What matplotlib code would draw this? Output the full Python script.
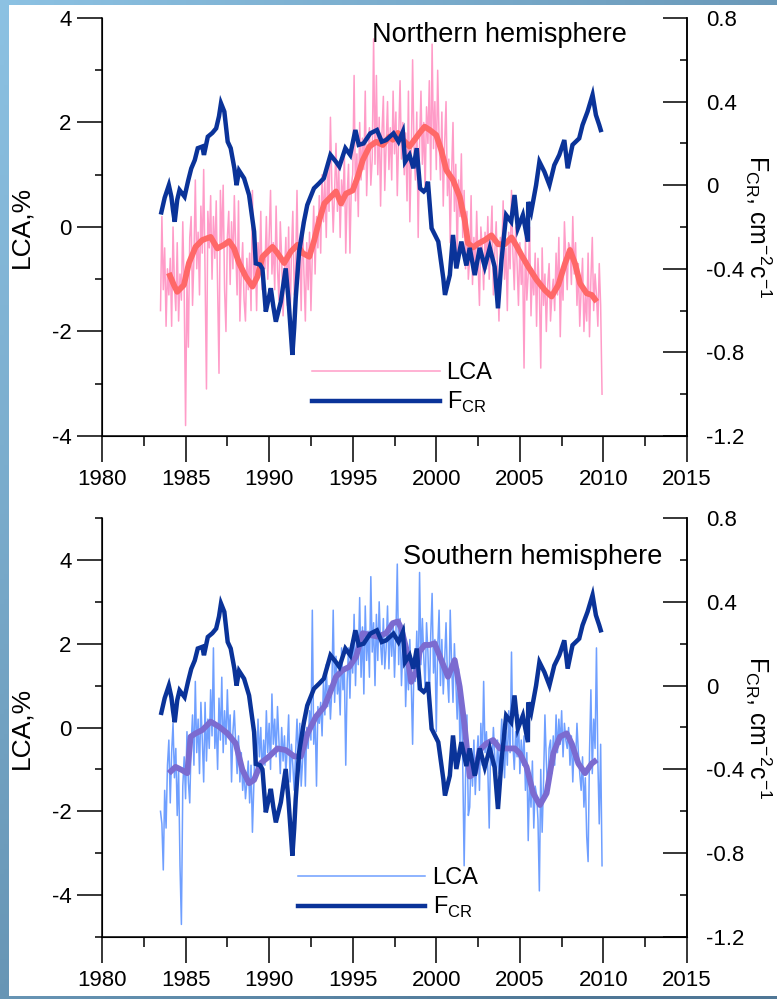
"""Lower cloud anomalies against cosmic ray flux, two hemispheres."""

import numpy as np
import matplotlib as mpl
import matplotlib.pyplot as plt
from matplotlib.lines import Line2D
from matplotlib.patches import Rectangle
from matplotlib.ticker import MultipleLocator, FuncFormatter

mpl.rc('font', family='Liberation Sans', size=16)
mpl.rc('mathtext', fontset='custom', rm='Liberation Sans')
mpl.rc('axes', unicode_minus=False)

# Monthly LCA anomalies (%), July 1983 - December 2009, one row per year.
lca_north = [
    -1.6, 0.2, -1.2, -0.4, -1.9, -0.8,
    -1.3, -0.6, -1.9, 0.0, -1.1, -1.6, -0.3, -1.8, -0.9, -1.4, 0.1, -1.2,
    -3.8, -1.0, -2.3, -0.2, 0.2, -1.5, -0.6, 0.9, -0.8, -0.1, -1.3, 0.4,
    -0.5, 1.1, -0.9, -3.1, 0.3, -0.4, 0.6, -1.0, 0.2, -0.6, 0.5, -1.2,
    -2.8, 0.7, -0.3, 0.8, -1.2, -2.0, -0.2, 0.3, -1.1, 0.1, -0.8, 0.6,
    -0.4, -1.3, 0.5, -1.8, -0.9, -0.3, -1.4, -1.8, -0.6, -1.2, -0.5, -1.6,
    0.7, -1.1, -0.4, -1.6, -0.3, -0.9, 0.3, -1.2, -0.5, -0.8, 0.2, -1.0,
    -0.2, 0.7, -0.9, -0.3, -1.2, 0.4, -0.8, -1.4, 0.1, -0.6, -1.7, -0.9,
    -0.2, -1.5, 0.0, -1.9, -0.5, 0.3, -1.3, -0.8, 0.7, -1.0, -0.4, -1.6,
    0.1, -0.9, -1.8, -0.3, -1.2, -0.1, -1.6, -0.5, 0.4, -0.9, 0.2, -0.4,
    0.6, -0.5, 1.0, 0.1, 0.9, -0.2, 1.2, 0.3, 2.1, 0.8, -0.1, 0.7,
    1.6, 0.3, 1.1, -0.2, 0.9, 0.4, 1.4, -0.5, 0.6, 1.2, -0.5, 0.8,
    1.0, 2.9, 0.5, 1.4, 0.2, 2.0, 0.9, 1.7, 1.1, 2.6, 0.6, 1.5,
    1.9, 0.8, 1.3, 3.6, 1.2, 2.9, 1.0, 2.1, 0.4, 1.8, 2.5, 0.7,
    1.6, 2.4, 1.1, 1.9, 0.9, 2.6, 1.4, 2.2, 0.6, 1.7, 2.8, 1.3,
    2.0, 1.0, 1.8, 0.5, 2.6, 0.1, 1.3, 3.2, 1.5, 0.9, 2.2, -0.2,
    1.6, 2.6, 1.2, 2.0, 0.7, 2.3, 1.6, 2.8, 0.9, 3.5, 1.5, 2.4,
    1.1, 3.0, 1.7, 0.9, 2.2, 0.4, 1.6, 2.4, 0.6, 1.3, -0.3, 1.0,
    2.0, 0.3, 1.2, -0.6, 0.9, 0.2, 1.4, -0.2, 0.7, -0.8, 0.3, -1.0,
    -0.6, 0.6, -1.1, -0.2, -0.9, 0.3, -0.7, -1.5, 0.0, -0.4, -1.2, -0.1,
    -0.8, 0.2, -1.0, -0.3, 0.4, -1.3, -0.5, 0.1, -0.9, -1.8, -0.2, -0.6,
    0.5, -1.0, -0.4, -1.6, -0.1, -0.8, 0.7, -0.5, -1.2, 0.0, -0.7, -1.5,
    -0.3, -1.1, -0.6, -2.7, -0.2, -1.4, -0.9, 0.0, -1.7, -0.8, -1.3, -0.5,
    -1.9, -0.6, -1.2, -2.7, -0.4, -1.5, -0.9, -2.0, -1.1, -0.7, -1.8, -1.3,
    -1.0, -1.6, -0.5, -1.3, -0.2, -2.1, -0.8, -1.4, 0.1, -0.6, -1.2, -0.3,
    -0.4, -1.1, 0.2, -0.9, -0.3, -1.5, -0.7, -1.9, -1.2, -0.6, -2.0, -1.3,
    -1.8, -0.5, -2.1, -1.0, -0.2, -1.6, -0.9, -1.3, -1.9, -0.7, -1.5, -3.2,
]

lca_south = [
    -2.0, -2.3, -3.4, -1.5, -2.4, -0.9,
    -0.3, -1.8, -0.6, 0.1, -1.2, -0.5, -2.1, -1.0, -3.3, -4.7, -1.4, -0.7,
    -1.7, -0.1, -1.3, -1.8, -0.4, 0.3, -0.9, 1.1, -0.6, 0.2, -1.1, 0.6,
    -0.3, -1.3, 0.6, -0.8, 0.2, -0.5, 0.9, -0.2, 1.9, -0.5, 0.1, -1.0,
    0.7, -0.3, 1.2, -0.6, 0.4, -0.4, 0.9, -0.2, 0.3, -1.3, -0.1, 0.4,
    -0.4, -1.1, -0.2, -1.3, -0.6, -1.5, -1.0, -1.7, -1.3, -0.8, -1.8, -0.9,
    -2.5, -1.4, -0.2, -1.0, 0.2, -0.7, 0.0, -1.2, -0.3, -0.9, 0.4, -0.6,
    0.1, -1.0, 0.8, -0.4, 0.2, -0.7, 0.5, -0.3, -1.1, 0.0, -0.8, -0.2,
    -1.1, -0.5, 0.3, -1.3, -0.4, -0.9, -1.5, -0.6, 0.2, -0.8, 0.1, -1.4,
    -0.8, 0.1, -1.4, 0.0, -0.5, 0.4, -0.3, 2.8, -0.4, 0.3, -1.4, 0.5,
    0.1, 0.6, -0.2, 1.1, 0.3, 1.5, 0.5, 1.0, 0.2, 0.9, 2.8, 0.6,
    1.7, 0.8, 1.2, 0.3, 1.9, 0.9, 1.4, -0.9, 1.1, 1.9, 0.7, 2.0,
    1.3, 2.7, 1.0, 2.2, 1.5, 3.1, 1.2, 2.4, 0.8, 2.9, 1.6, 2.3,
    1.2, 3.6, 1.8, 2.5, 1.0, 2.7, 1.6, 3.0, 2.0, 1.5, 2.6, 1.4,
    1.9, 2.9, 1.4, 2.5, 1.7, 2.5, 1.2, 2.2, 3.9, 1.5, 2.6, 1.0,
    1.9, 2.4, 0.5, 1.6, 0.9, 2.1, 1.1, -0.4, 1.6, 1.1, 2.3, 0.9,
    3.7, 1.5, 2.6, 1.7, 0.9, 2.5, 1.8, 0.6, 2.2, 3.2, 1.3, 2.1,
    -0.1, 1.9, 2.8, 1.0, 2.1, 0.8, 1.6, 2.5, 1.2, 0.6, 2.8, 1.5,
    0.6, 2.0, 1.1, 0.2, 1.4, -0.5, 0.8, -0.9, -3.3, -1.2, 0.3, -2.1,
    -1.9, -0.6, -1.4, -0.3, -1.6, -0.8, -0.2, -1.5, 0.1, -0.9, 1.1, -0.6,
    -0.1, -1.0, -2.4, -0.5, -0.9, 0.0, -0.7, -1.3, -0.3, -1.1, -0.5, 0.2,
    -0.5, -1.2, -0.1, -0.9, 0.4, -0.6, 1.8, -0.4, -1.0, -0.1, -0.7, 0.3,
    -1.1, -0.3, -0.9, -0.2, -1.5, -0.6, -2.7, -1.2, -1.9, -0.8, -2.4, -1.4,
    -1.6, -2.2, -3.9, -1.0, -2.5, -1.3, 0.3, -0.8, -1.6, -0.5, -0.3, -1.1,
    -0.2, -0.9, 0.3, -0.6, 0.2, -0.4, 0.4, -0.7, 0.1, -0.3, -0.5, 0.0,
    -0.9, -0.2, -1.3, -0.4, -0.8, 0.1, -0.6, -1.1, -1.5, -0.7, -1.9, -1.2,
    -2.6, -3.2, -0.6, 0.9, -1.1, 0.2, -0.5, 1.9, -0.8, -2.3, -0.4, -3.3,
]

# Running means of the LCA anomalies.
north_smooth_years = [
    1984.0, 1984.3, 1984.5, 1984.9, 1985.2, 1985.6, 1986.0, 1986.5, 1986.9,
    1987.3, 1987.6, 1987.9, 1988.2, 1988.6, 1989.0, 1989.3, 1989.6, 1990.2,
    1990.5, 1990.9, 1991.3, 1991.7, 1992.0, 1992.4, 1992.7, 1993.0, 1993.3,
    1993.7, 1994.0, 1994.3, 1994.6, 1995.0, 1995.3, 1995.6, 1996.0, 1996.4,
    1996.8, 1997.2, 1997.4, 1997.7, 1998.0, 1998.4, 1999.0, 1999.3, 1999.6,
    2000.0, 2000.3, 2000.6, 2001.0, 2001.4, 2001.7, 2001.9, 2002.2, 2002.5,
    2002.9, 2003.3, 2003.7, 2004.1, 2004.5, 2004.8, 2005.1, 2005.5, 2006.0,
    2006.5, 2006.9, 2007.3, 2007.7, 2008.0, 2008.3, 2008.6, 2009.0, 2009.3,
    2009.6,
]
north_smooth = [
    -0.88, -1.11, -1.24, -1.11, -0.69, -0.38, -0.25, -0.19, -0.41,
    -0.34, -0.27, -0.41, -0.69, -0.95, -1.14, -0.95, -0.57, -0.38,
    -0.50, -0.69, -0.47, -0.34, -0.50, -0.57, -0.25, 0.13, 0.45,
    0.58, 0.68, 0.45, 0.64, 0.70, 0.96, 1.28, 1.54, 1.63,
    1.57, 1.73, 1.67, 1.80, 1.67, 1.54, 1.80, 1.92, 1.86,
    1.76, 1.47, 1.09, 0.90, 0.58, 0.13, -0.31, -0.39, -0.32,
    -0.25, -0.16, -0.33, -0.33, -0.20, -0.36, -0.54, -0.76, -1.01,
    -1.21, -1.33, -1.11, -0.70, -0.44, -0.70, -1.08, -1.27, -1.30,
    -1.43,
]

south_smooth_years = [
    1984.0, 1984.4, 1984.8, 1985.1, 1985.3, 1985.6, 1986.0, 1986.5, 1987.0,
    1987.5, 1988.0, 1988.4, 1988.8, 1989.1, 1989.5, 1990.0, 1990.5, 1991.0,
    1991.5, 1991.9, 1992.3, 1992.8, 1993.3, 1993.7, 1994.0, 1994.4, 1994.8,
    1995.2, 1995.6, 1996.0, 1996.5, 1997.0, 1997.4, 1997.7, 1997.9, 1998.2,
    1998.5, 1998.8, 1999.0, 1999.3, 1999.6, 1999.9, 2000.3, 2000.7, 2001.1,
    2001.4, 2001.7, 2002.0, 2002.3, 2002.6, 2003.0, 2003.4, 2003.8, 2004.2,
    2004.7, 2005.0, 2005.4, 2005.8, 2006.2, 2006.6, 2007.0, 2007.4, 2007.8,
    2008.1, 2008.5, 2008.9, 2009.3, 2009.6,
]
south_smooth = [
    -1.09, -0.94, -1.02, -1.09, -0.22, -0.14, -0.06, 0.14, 0.02,
    -0.14, -0.38, -1.01, -1.33, -1.25, -0.85, -0.69, -0.50, -0.54,
    -0.69, -0.69, -0.14, 0.26, 0.50, 0.89, 1.21, 1.37, 1.45,
    1.69, 2.25, 2.21, 2.17, 2.25, 2.49, 2.53, 2.37, 1.89,
    1.09, 1.33, 1.81, 1.97, 1.97, 2.01, 1.61, 1.21, 1.61,
    0.97, 0.02, -1.17, -1.09, -0.54, -0.38, -0.30, -0.50, -0.50,
    -0.50, -0.62, -0.94, -1.57, -1.85, -1.57, -0.62, -0.22, -0.14,
    -0.38, -0.86, -1.09, -0.86, -0.77,
]

# Cosmic ray flux F_CR, same series for both hemispheres.
fcr_years = [
    1983.55, 1983.75, 1984.00, 1984.15, 1984.25, 1984.35, 1984.50, 1984.64,
    1984.80, 1984.94, 1985.15, 1985.34, 1985.55, 1985.73, 1986.00, 1986.10,
    1986.33, 1986.60, 1986.83, 1987.00, 1987.12, 1987.32, 1987.52, 1987.70,
    1987.92, 1988.05, 1988.20, 1988.50, 1988.80, 1989.10, 1989.20, 1989.45,
    1989.60, 1989.80, 1989.95, 1990.10, 1990.25, 1990.40, 1990.70, 1990.99,
    1991.15, 1991.39, 1991.50, 1991.59, 1991.79, 1992.08, 1992.28, 1992.68,
    1993.00, 1993.27, 1993.67, 1994.00, 1994.20, 1994.56, 1994.85, 1995.16,
    1995.36, 1995.65, 1996.05, 1996.45, 1996.74, 1997.00, 1997.44, 1997.74,
    1998.00, 1998.13, 1998.40, 1998.63, 1998.83, 1999.03, 1999.25, 1999.42,
    1999.50, 1999.72, 2000.12, 2000.42, 2000.52, 2000.71, 2000.81, 2001.00,
    2001.20, 2001.50, 2001.80, 2002.00, 2002.30, 2002.60, 2002.90, 2003.20,
    2003.49, 2003.69, 2003.90, 2004.18, 2004.48, 2004.68, 2004.88, 2005.18,
    2005.48, 2005.50, 2005.68, 2005.97, 2006.17, 2006.47, 2006.77, 2007.06,
    2007.36, 2007.66, 2007.86, 2008.15, 2008.55, 2008.75, 2009.05, 2009.35,
    2009.55, 2009.75, 2009.84,
]
fcr = [
    -0.130, -0.060, 0.000, -0.055, -0.120, -0.175, -0.070, -0.023,
    -0.040, -0.055, 0.020, 0.080, 0.120, 0.177, 0.185, 0.145,
    0.232, 0.250, 0.272, 0.330, 0.392, 0.352, 0.208, 0.177,
    0.081, 0.000, 0.070, 0.033, -0.047, -0.222, -0.374, -0.380,
    -0.400, -0.605, -0.550, -0.493, -0.580, -0.653, -0.557, -0.398,
    -0.540, -0.812, -0.680, -0.540, -0.320, -0.175, -0.095, -0.015,
    0.010, 0.033, 0.145, 0.112, 0.089, 0.177, 0.145, 0.264,
    0.193, 0.200, 0.248, 0.264, 0.208, 0.216, 0.248, 0.208,
    0.256, 0.112, 0.145, 0.081, 0.177, -0.015, -0.030, -0.015,
    0.017, -0.206, -0.270, -0.446, -0.525, -0.462, -0.430, -0.238,
    -0.398, -0.270, -0.384, -0.300, -0.430, -0.300, -0.390, -0.300,
    -0.390, -0.589, -0.360, -0.143, -0.175, -0.047, -0.206, -0.143,
    -0.270, -0.080, -0.127, 0.000, 0.112, 0.064, 0.001, 0.096,
    0.145, 0.216, 0.081, 0.193, 0.224, 0.288, 0.352, 0.432,
    0.336, 0.288, 0.264,
]

year_ticks = [1980, 1985, 1990, 1995, 2000, 2005, 2010, 2015]

NAVY = '#0a3399'
W, H = 777, 999

fig = plt.figure(figsize=(W / 100, H / 100), dpi=100)

# Slide background: blue frame round a white sheet.
bg = fig.add_axes([0, 0, 1, 1], zorder=-10)
bg.axis('off')
gy, gx = np.mgrid[0:1:200j, 0:1:200j]
t = np.clip(0.55 * gx + 0.6 * gy, 0, 1)[..., None]
light = np.array([0.55, 0.76, 0.89])
dark = np.array([0.31, 0.47, 0.59])
bg.imshow(light * (1 - t) + dark * t, extent=[0, 1, 0, 1], aspect='auto')
bg.set_xlim(0, 1)
bg.set_ylim(0, 1)
bg.add_patch(Rectangle((9 / W, 3 / H), 1, 1 - 8 / H, color='white', lw=0))


def fcr_fmt(v, pos):
    if abs(v) < 1e-9:
        return '0'
    return f'{round(v, 1):g}'


def panel(top_px, bottom_px, raw, sm_years, sm, raw_color, sm_color,
          lca_lim, title, title_xy, leg_xy):
    """Draw one hemisphere: LCA on the left axis, F_CR on the right."""
    x0, x1 = 102, 687
    ax = fig.add_axes([x0 / W, 1 - bottom_px / H,
                       (x1 - x0) / W, (bottom_px - top_px) / H])
    months = 1983.5 + np.arange(len(raw)) / 12
    ax.plot(months, raw, color=raw_color, lw=1.1)
    ax.plot(sm_years, sm, color=sm_color, lw=4.2, solid_capstyle='butt')

    ax.set_xlim(1980, 2015)
    ax.set_ylim(*lca_lim)
    ax.set_xticks(year_ticks)
    ax.xaxis.set_minor_locator(MultipleLocator(2.5))
    ax.yaxis.set_major_locator(MultipleLocator(2))
    ax.yaxis.set_minor_locator(MultipleLocator(1))
    ax.spines['top'].set_visible(False)
    for s in ax.spines.values():
        s.set_linewidth(1.1)
    ax.tick_params(axis='x', which='major', length=19, width=1.1, pad=5)
    ax.tick_params(axis='x', which='minor', length=7, width=1.1)
    ax.tick_params(axis='y', which='major', length=18, width=1.1, pad=4)
    ax.tick_params(axis='y', which='minor', length=5, width=1.1)
    ax.set_ylabel('LCA,%', fontsize=19)
    ax.yaxis.set_label_coords(-0.118, 0.5)
    ax.text(title_xy[0], title_xy[1], title, transform=ax.transAxes,
            fontsize=19.5, ha='left', va='center')

    ax2 = ax.twinx()
    ax2.plot(fcr_years, fcr, color=NAVY, lw=3.2, solid_joinstyle='miter')
    ax2.set_ylim(-1.2, 0.8)
    ax2.yaxis.set_major_locator(MultipleLocator(0.4))
    ax2.yaxis.set_minor_locator(MultipleLocator(0.2))
    ax2.yaxis.set_major_formatter(FuncFormatter(fcr_fmt))
    ax2.spines['top'].set_visible(False)
    ax2.spines['right'].set_linewidth(1.1)
    ax2.tick_params(axis='y', which='major', direction='in', length=17,
                    width=1.1, pad=14)
    ax2.tick_params(axis='y', which='minor', direction='in', length=5,
                    width=1.1)
    ax2.text(1.122, 0.5, r'F$_{\mathrm{CR}}$, cm$^{-2}$c$^{-1}$',
             transform=ax2.transAxes, rotation=-90, fontsize=18,
             ha='center', va='center')

    handles = [Line2D([], [], color=raw_color, lw=1.1),
               Line2D([], [], color=NAVY, lw=3.2)]
    ax2.legend(handles, ['LCA', r'F$_{\mathrm{CR}}$'], loc='upper left',
               bbox_to_anchor=leg_xy, frameon=False, fontsize=17,
               handlelength=5.4, handletextpad=0.3, labelspacing=0.25,
               borderpad=0, borderaxespad=0)
    return ax, ax2


panel(18, 436, lca_north, north_smooth_years, north_smooth,
      '#ff9cc8', '#ff6868', (-4, 4), 'Northern hemisphere',
      (0.4615, 0.959), (0.359, 0.177))
panel(518, 937, lca_south, south_smooth_years, south_smooth,
      '#6f9fff', '#7b6bd0', (-5, 5), 'Southern hemisphere',
      (0.5145, 0.907), (0.335, 0.167))

fig.savefig('out.png', dpi=100)
